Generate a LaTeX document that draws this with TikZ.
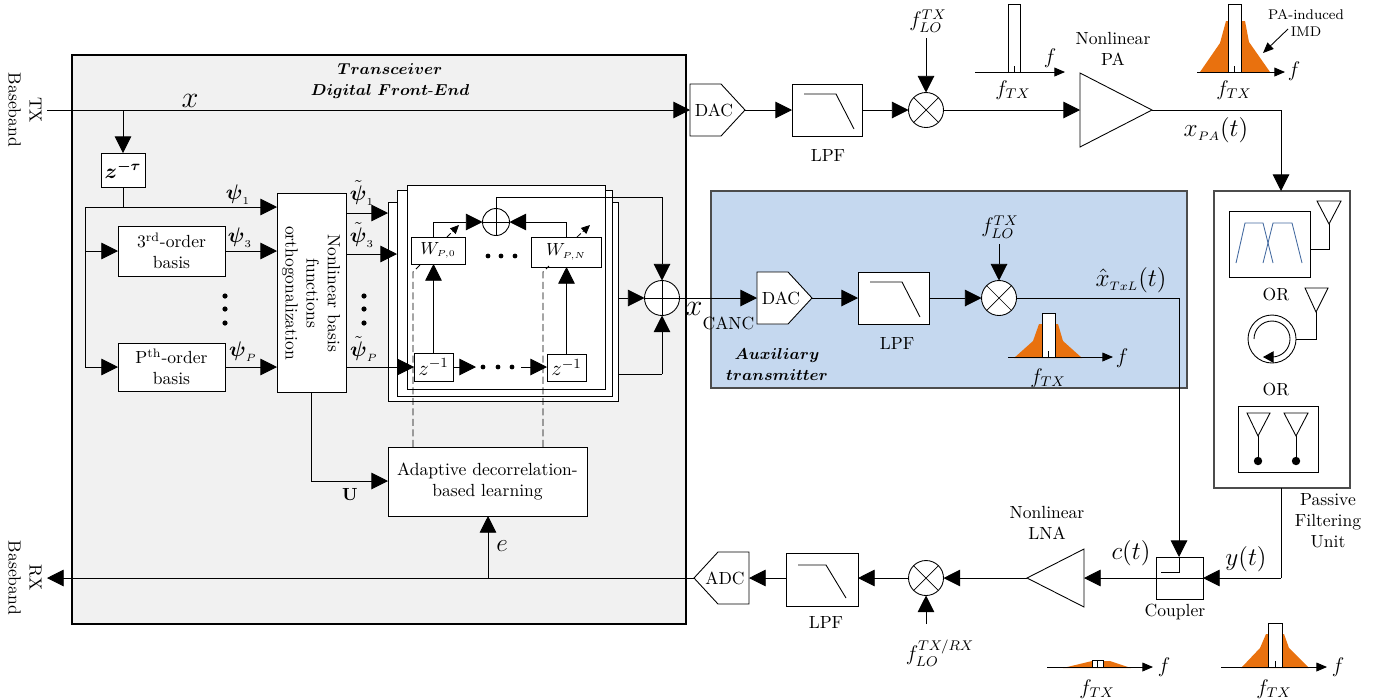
\documentclass[tikz,border=0pt]{standalone}
\usepackage{amsmath,amssymb}
\usetikzlibrary{arrows.meta,calc}
\definecolor{dfe}{RGB}{241,241,241}
\definecolor{aux}{RGB}{197,216,239}
\definecolor{imd}{RGB}{233,113,14}
\definecolor{bpf}{RGB}{68,106,160}
\tikzset{
 x=0.02cm,y=-0.02cm,
 every node/.style={inner sep=0pt,outer sep=0pt},
 line/.style={line width=0.5pt},
 conn/.style={line width=0.5pt,-{Triangle[length=9.5pt,width=9.5pt]}},
 axisline/.style={line width=0.5pt,-{Triangle[length=6pt,width=5pt]}},
 boxst/.style={draw,line width=0.5pt,fill=white,align=center},
 ghost/.style={align=center},
 frameb/.style={draw,line width=0.5pt,fill=white},
 mixer/.style={circle,draw,line width=0.5pt,fill=white,minimum size=35*0.02cm,
   path picture={\draw[line width=0.4pt] (path picture bounding box.north west)--(path picture bounding box.south east)
   (path picture bounding box.north east)--(path picture bounding box.south west);}},
 adder/.style={circle,draw,line width=0.5pt,fill=white,minimum size=#1*0.02cm,
   path picture={\draw[line width=0.4pt] (path picture bounding box.north)--(path picture bounding box.south)
   (path picture bounding box.east)--(path picture bounding box.west);}},
 dot/.style={fill=black},
 dashedline/.style={line width=0.45pt,dash pattern=on 4pt off 2pt},
 smalltick/.style={line width=0.4pt},
}
\newcommand{\Bx}[6][]{\node[boxst,#1,minimum width={(#5-#3)*0.02cm},minimum height={(#6-#4)*0.02cm}] (#2) at ({(#3+#5)/2},{(#4+#6)/2}) {};}
\newcommand{\BxT}[7][]{\node[boxst,#1,minimum width={(#5-#3)*0.02cm},minimum height={(#6-#4)*0.02cm}] (#2) at ({(#3+#5)/2},{(#4+#6)/2}) {#7};}
\newcommand{\Gh}[5]{\node[ghost,minimum width={(#4-#2)*0.02cm},minimum height={(#5-#3)*0.02cm}] (#1) at ({(#2+#4)/2},{(#3+#5)/2}) {};}
% bar: left, right, top, axis y
\newcommand{\SpecBar}[4]{%
 \draw[line width=0.5pt,fill=white] (#1,#4) rectangle (#2,#3);
 \draw[smalltick] ({(#1+#2)/2},#4) -- ++(0,-6);}
\begin{document}
\begin{tikzpicture}
\useasboundingbox (0,0) rectangle (1385,698);
% ---------- panels
\node[draw,line width=1.1pt,fill=dfe,minimum width=614*0.02cm,minimum height=569*0.02cm] (dfebox) at (379,339.5) {};
\node[draw=black!70,line width=0.6pt,fill=aux,minimum width=476*0.02cm,minimum height=197*0.02cm] (auxbox) at (949,289.5) {};
\node[draw=black!70,line width=0.6pt,fill=white,minimum width=136*0.02cm,minimum height=297*0.02cm] (pfu) at (1282,339.5) {};
\node[align=center,font=\small] (dfetitle) at (390,81) {$\boldsymbol{Transceiver}$\\[1pt]$\boldsymbol{Digital\ Front\text{-}End}$};
\node[align=center,font=\small] (auxtitle) at (777,364.5) {$\boldsymbol{Auxiliary}$\\[1pt]$\boldsymbol{transmitter}$};
\node[rotate=-90,align=center] (txbb) at (25,110) {TX\\Baseband};
\node[rotate=-90,align=center] (rxbb) at (25,578) {RX\\Baseband};
% ---------- left blocks
\node[boxst,minimum width=44*0.02cm,minimum height=34*0.02cm] (ztau) at (123,170) {\large$\boldsymbol{z^{-\tau}}$};
\BxT{b3}{118}{226}{225}{276}{3\textsuperscript{rd}-order\\basis}
\BxT{bP}{118}{343}{225}{391}{P\textsuperscript{th}-order\\basis}
\Bx{ortho}{277}{193}{346}{392}
\node[rotate=-90,align=center] (orthot) at (311,293) {Nonlinear basis\\functions\\orthogonalization};
\BxT{adapt}{388}{447}{587}{516}{Adaptive decorrelation-\\based learning}
% stacked frames
\node[frameb,minimum width=230*0.02cm,minimum height=199*0.02cm] (f3) at (503,301.5) {};
\node[frameb,minimum width=215*0.02cm,minimum height=206*0.02cm] (f2) at (504.5,293) {};
\node[frameb,minimum width=198*0.02cm,minimum height=204*0.02cm] (f1) at (506,287) {};
% inner blocks
\BxT{w0}{411}{237}{465}{264}{$W_{\scriptscriptstyle P,0}$}
\BxT{wN}{531}{237}{601}{267}{$W_{\scriptscriptstyle P,N}$}
\BxT{z1}{414}{353}{453}{381}{\large$z^{-1}$}
\BxT{z2}{547}{354}{586}{381}{\large$z^{-1}$}
\node[adder=27] (sum1) at (496,222) {};
\node[adder=35] (sum2) at (662,298) {};
% ---------- input line
\coordinate (txin) at (47,110);
\coordinate (zjoin) at (123,110);
\coordinate (bus) at (85,207);
\coordinate (busz) at (123,207);
\coordinate (bus3) at (85,251);
\coordinate (busP) at (85,367);
% ---------- DAC / LPF / mixer top chain
\Gh{dac1}{690}{84}{745}{136}
\draw[line width=0.5pt,fill=white] (dac1.north west) -- ($(dac1.north west)+(31,0)$) -- (dac1.east) -- ($(dac1.south west)+(31,0)$) -- (dac1.south west) -- cycle;
\node (dac1t) at (714,110) {DAC};
\Bx{lpf1}{792}{84}{862}{136}
\draw[line width=0.5pt] ($(lpf1.north west)+(12,10)$) -- ++(32,0) -- ++(18,35);
\node (lpf1t) at (828,155) {LPF};
\node[mixer] (mix1) at (926,110) {};
\node (flo1) at (928,21) {\large$f_{LO}^{TX}$};
\coordinate (flo1c) at (926,38);
\Gh{pa}{1080}{73}{1152}{147}
\draw[line width=0.5pt,fill=white] (pa.north west) -- (pa.east) -- (pa.south west) -- cycle;
\node[align=center] (pat) at (1113,49) {Nonlinear\\PA};
\node (xpa) at (1216,130) {\Large$x_{\scriptscriptstyle PA}(t)$};
\coordinate (pacorner) at (1281,110);
% ---------- spectra
\SpecBar{1008}{1020}{4}{72}
\draw[axisline] (975,72) coordinate (s1a) -- (1065,72) coordinate (s1b);
\node (s1f) at (1050,58) {\large$f$};
\node (s1t) at (1013,90) {\large$f_{TX}$};
\fill[imd] (1200,72) -- (1220,43) -- (1226,21) -- (1245,21) -- (1249,42) -- (1270,72) -- cycle;
\SpecBar{1228}{1241}{4}{72}
\draw[axisline] (1197,72) coordinate (s2a) -- (1285,72) coordinate (s2b);
\node (s2f) at (1294,71) {\large$f$};
\node (s2t) at (1234,90) {\large$f_{TX}$};
\node[align=center,font=\footnotesize] (imdt) at (1306,23) {PA-induced\\IMD};
\coordinate (imda) at (1288,29);\coordinate (imdb) at (1263,53);
\draw[axisline] (imda) -- (imdb);
% ---------- auxiliary chain
\Gh{dac2}{757}{272}{812}{324}
\draw[line width=0.5pt,fill=white] (dac2.north west) -- ($(dac2.north west)+(31,0)$) -- (dac2.east) -- ($(dac2.south west)+(31,0)$) -- (dac2.south west) -- cycle;
\node (dac2t) at (781,298) {DAC};
\Bx{lpf2}{858}{272}{929}{324}
\draw[line width=0.5pt] ($(lpf2.north west)+(12,10)$) -- ++(32,0) -- ++(18,35);
\node (lpf2t) at (897,343) {LPF};
\node[mixer] (mix2) at (999,298) {};
\node (flo2) at (1000,227) {\large$f_{LO}^{TX}$};
\coordinate (flo2c) at (999,244);
\node (xhat) at (1131,280) {\Large$\hat{x}_{\scriptscriptstyle TxL}(t)$};
\fill[imd] (1014,358) -- (1033,341) -- (1039,324) -- (1058,324) -- (1063,341) -- (1082,358) -- cycle;
\SpecBar{1042}{1055}{313}{357}
\draw[axisline] (1008,357) coordinate (s3a) -- (1113,357) coordinate (s3b);
\node (s3f) at (1122,358) {\large$f$};
\node (s3t) at (1048,378) {\large$f_{TX}$};
\node (xcanc) at (720,316) {\LARGE$x$\raisebox{-1.1ex}{\normalsize CANC}};
% ---------- passive unit
\Bx{duplex}{1229}{211}{1310}{277}
\draw[bpf,line width=0.5pt] (1236,263) -- (1245,223) -- (1263,223) -- (1273,263);
\draw[bpf,line width=0.5pt] (1263,263) -- (1273,223) -- (1292,223) -- (1302,263);
\coordinate (ant1) at (1329,224);
\draw[line width=0.5pt] (1317,201) -- (1341,201) -- (ant1) -- cycle;
\coordinate (dupc) at (1329,249);
\draw[line] (duplex.east |- dupc) -- (dupc) -- (ant1);
\node (or1) at (1276,294) {OR};
\node[circle,draw,line width=0.5pt,fill=white,minimum size=48*0.02cm] (circ) at (1272,339) {};
\draw[line width=0.5pt,-{Triangle[length=6pt,width=6.5pt]}] (1254,339) arc[start angle=180,end angle=450,radius=18] -- (1263,357);
\coordinate (ant2) at (1316,312);
\draw[line width=0.5pt] (1305,288) -- (1328,288) -- (ant2) -- cycle;
\draw[line] (circ.east) -- (circ.east -| ant2) -- (ant2);
\node (or2) at (1276,389) {OR};
\Bx{twoant}{1238}{406}{1318}{472}
\coordinate (ant3) at (1258,436);\coordinate (ant4) at (1296,436);
\coordinate (d3) at (1258,461);\coordinate (d4) at (1296,461);
\draw[line width=0.5pt] (1247,413) -- (1270,413) -- (ant3) -- cycle;
\draw[line width=0.5pt] (1284,413) -- (1308,413) -- (ant4) -- cycle;
\draw[line] (ant3) -- (d3);\draw[line] (ant4) -- (d4);
\fill[dot] (d3) circle (4.2);\fill[dot] (d4) circle (4.2);
\node[align=center] (pfut) at (1328,520.5) {Passive\\Filtering\\Unit};
% ---------- RX chain
\Bx{coupler}{1156}{557}{1203}{599}
\node (couplert) at (1175,612) {Coupler};
\Gh{lna}{1027}{549}{1084}{607}
\draw[line width=0.5pt,fill=white] (lna.north east) -- (lna.west) -- (lna.south east) -- cycle;
\node[align=center] (lnat) at (1047,523) {Nonlinear\\LNA};
\node[mixer] (mix3) at (926,578) {};
\coordinate (flo3c) at (926,624);
\node (flo3) at (940,653) {\large$f_{LO}^{TX/RX}$};
\Bx{lpf3}{786}{553}{858}{606}
\draw[line width=0.5pt] ($(lpf3.north west)+(12,12)$) -- ++(28,0) -- ++(20,33);
\node (lpf3t) at (826,622) {LPF};
\Gh{adc}{694}{552}{749}{604}
\draw[line width=0.5pt,fill=white] (adc.north east) -- ($(adc.north east)+(-31,0)$) -- (adc.west) -- ($(adc.south east)+(-31,0)$) -- (adc.south east) -- cycle;
\node (adct) at (725,578) {ADC};
\node (yt) at (1246,559) {\Large$y(t)$};
\node (ct) at (1131,553) {\Large$c(t)$};
\node (elab) at (502,546) {\Large$e$};
\coordinate (rxout) at (47,578);
\coordinate (ejoin) at (488,578);
\coordinate (ycorner) at (1281,578);
% bottom spectra
\fill[imd] (1063,668) -- (1092,661) -- (1110,661) -- (1131,668) -- cycle;
\SpecBar{1092}{1103}{660}{667}
\draw[axisline] (1047,667) coordinate (s4a) -- (1153,667) coordinate (s4b);
\node (s4f) at (1164,667) {\large$f$};
\node (s4t) at (1097,689) {\large$f_{TX}$};
\fill[imd] (1241,668) -- (1260,648) -- (1266,634) -- (1284,634) -- (1289,648) -- (1309,668) -- cycle;
\SpecBar{1268}{1282}{623}{667}
\draw[axisline] (1221,667) coordinate (s5a) -- (1327,667) coordinate (s5b);
\node (s5f) at (1338,667) {\large$f$};
\node (s5t) at (1274,689) {\large$f_{TX}$};
% ---------- connectors, left
\draw[conn] (txin) -- (dac1.west);
\draw[conn] (zjoin) -- (ztau.north);
\draw[line] (ztau.south) -- (busz);
\draw[conn] (bus) -- (ortho.west |- bus);
\draw[line] (bus) -- (busP);
\draw[conn] (bus3) -- (b3.west |- bus3);
\draw[conn] (busP) -- (bP.west |- busP);
\draw[conn] (b3.east |- bus3) -- (ortho.west |- bus3);
\draw[conn] (bP.east |- busP) -- (ortho.west |- busP);
\coordinate (o1) at (346,213);\coordinate (o3) at (346,254);\coordinate (oP) at (346,367);
\draw[conn] (o1) -- (f3.west |- o1);
\draw[conn] (o3) -- (f2.west |- o3);
\draw[conn] (oP) -- (z1.west |- oP);
\coordinate (orthob) at (311,392);
\coordinate (ucorner) at (311,481);
\draw[conn] (orthob) -- (ucorner) -- (adapt.west |- ucorner);
\draw[conn] (z1.north) -- (w0.south -| z1.north);
\draw[conn] (z2.north) -- (wN.south -| z2.north);
\draw[conn] (z1.north |- w0.north) |- (sum1.west);
\coordinate (wnt) at (566,237);
\draw[conn] (wnt) |- (sum1.east);
\coordinate (z1r) at (453,367);\coordinate (dotsa) at (476,367);
\coordinate (dotsb) at (521,367);
\draw[conn] (z1r) -- (dotsa);
\draw[conn] (dotsb) -- (z2.west |- dotsb);
\coordinate (sc) at (662,197);
\draw[line] (sum1.north) |- (sc);
\draw[conn] (sc) -- (sum2.north);
\draw[conn] (f3.east |- sum2) -- (sum2.west);
\coordinate (bc) at (662,374);
\draw[line] (f3.east |- bc) -- (bc);
\draw[conn] (bc) -- (sum2.south);
\draw[conn] (sum2.east) -- (dac2.west);
% dashed control lines
\coordinate (dl0) at (413,272);\coordinate (dl1) at (543,272);
\draw[dashedline] (adapt.north -| dl0) -- (dl0) -- (420,265);
\draw[dashedline] (adapt.north -| dl1) -- (dl1) -- (549,266);
\draw[line width=0.45pt,dash pattern=on 3pt off 1.5pt,-{Triangle[length=5pt,width=4.5pt]}] (447,237) -- (459,225);
\draw[line width=0.45pt,dash pattern=on 3pt off 1.5pt,-{Triangle[length=5pt,width=4.5pt]}] (577,237) -- (590,225);
% dots
\foreach \y in {296,309,323}{\fill[dot] (225,\y) circle (2.6);\fill[dot] (364,\y) circle (2.6);}
\foreach \x in {488,501,515}{\fill[dot] (\x,256) circle (2.4);}
\foreach \x in {483,498,512}{\fill[dot] (\x,367) circle (2.4);}
% labels
\node (xl) at (190,101) {\LARGE$x$};
\node (p1) at (238,195) {\large$\boldsymbol{\psi}_{\scriptscriptstyle 1}$};
\node (p3) at (240,238) {\large$\boldsymbol{\psi}_{\scriptscriptstyle 3}$};
\node (pP) at (243,352) {\large$\boldsymbol{\psi}_{\scriptscriptstyle P}$};
\node (q1) at (362,193) {\large$\tilde{\boldsymbol{\psi}}_{\scriptscriptstyle 1}$};
\node (q3) at (362,235) {\large$\tilde{\boldsymbol{\psi}}_{\scriptscriptstyle 3}$};
\node (qP) at (364,349) {\large$\tilde{\boldsymbol{\psi}}_{\scriptscriptstyle P}$};
\node (ul) at (350,495) {\textbf{U}};
% ---------- connectors, right
\draw[conn] (dac1.east) -- (lpf1.west);
\draw[conn] (lpf1.east) -- (mix1.west);
\draw[conn] (flo1c) -- (mix1.north);
\draw[conn] (mix1.east) -- (pa.west);
\draw[line] (pa.east) -- (pacorner);
\draw[conn] (pacorner) -- (pfu.north -| pacorner);
\draw[conn] (dac2.east) -- (lpf2.west);
\draw[conn] (lpf2.east) -- (mix2.west);
\draw[conn] (flo2c) -- (mix2.north);
\coordinate (auxc) at (1179,298);
\draw[line] (mix2.east) -- (auxc);
\draw[conn] (auxc) -- (coupler.north -| auxc);
\draw[line] (1161,572) -- (1179,572) -- (coupler.north -| auxc);
\draw[line] (pfu.south -| ycorner) -- (ycorner);
\draw[conn] (ycorner) -- (coupler.east |- ycorner);
\draw[conn] (coupler.east |- ycorner) -- (lna.east |- ycorner);
\draw[conn] (lna.west) -- (mix3.east);
\draw[conn] (flo3c) -- (mix3.south);
\draw[conn] (mix3.west) -- (lpf3.east |- mix3);
\draw[conn] (lpf3.west |- mix3) -- (adc.east |- mix3);
\draw[conn] (adc.west) -- (rxout);
\draw[conn] (ejoin) -- (adapt.south -| ejoin);
\end{tikzpicture}
\end{document}
